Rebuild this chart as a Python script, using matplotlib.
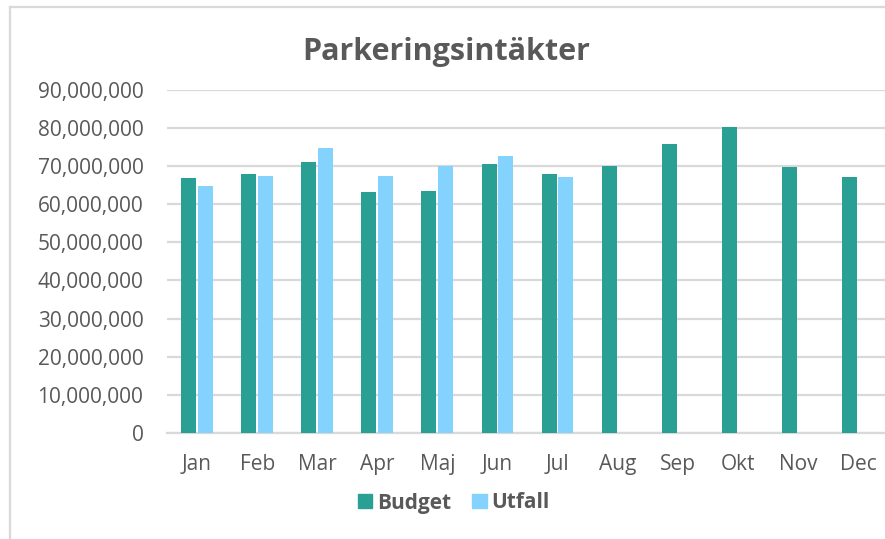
import numpy as np
import matplotlib
matplotlib.use("Agg")
import matplotlib.pyplot as plt
from matplotlib.lines import Line2D
from matplotlib.patches import Patch
from matplotlib.ticker import FuncFormatter

months = ["Jan", "Feb", "Mar", "Apr", "Maj", "Jun", "Jul", "Aug", "Sep", "Okt", "Nov", "Dec"]
budget = [66.7, 67.8, 70.9, 63.2, 63.5, 70.5, 67.8, 70.0, 75.8, 80.2, 69.6, 67.2]
budget = [v * 1e6 for v in budget]
utfall = [64.7, 67.3, 74.6, 67.3, 70.0, 72.6, 67.1]
utfall = [v * 1e6 for v in utfall]

teal = "#29A093"
light = "#84D2FE"
grey_txt = "#595959"
grid_c = "#D9D9D9"

plt.rcParams['font.family'] = ['Open Sans', 'DejaVu Sans']

W, H = 885, 539
fig = plt.figure(figsize=(W / 100, H / 100), dpi=100)

# axes placed in pixel units
left, right, bottom, top = 167, 888, 433, 89.5
ax = fig.add_axes([left / W, 1 - bottom / H, (right - left) / W, (bottom - top) / H])

x = np.arange(len(months))
bw = 0.25
ax.bar(x[:len(budget)] - 0.14, budget, width=bw, color=teal, zorder=3)
ax.bar(x[:len(utfall)] + 0.14, utfall, width=bw, color=light, zorder=3)

ax.set_xlim(-0.5, len(months) - 0.5)
ax.set_ylim(0, 90e6)
ax.set_yticks(np.arange(0, 90e6 + 1, 10e6))
ax.yaxis.set_major_formatter(FuncFormatter(lambda v, p: f"{int(v):,}"))
ax.set_xticks(x)
ax.set_xticklabels(months)

ax.grid(axis="y", color=grid_c, linewidth=1.6, zorder=0)
for s in ["top", "right", "left"]:
    ax.spines[s].set_visible(False)
ax.spines["bottom"].set_color(grid_c)
ax.spines["bottom"].set_linewidth(1.6)
ax.tick_params(axis="both", length=0, labelsize=15, colors=grey_txt)
ax.tick_params(axis="y", pad=17)
ax.tick_params(axis="x", pad=15)

fig.text(446 / W, 1 - 52 / H, "Parkeringsintäkter", ha="center", va="center",
         fontsize=22, fontweight="bold", color=grey_txt)

handles = [Patch(color=teal, label="Budget"), Patch(color=light, label="Utfall")]
leg = fig.legend(handles=handles, loc="center", bbox_to_anchor=(454 / W, 1 - 503 / H),
                 ncol=2, frameon=False, handlelength=0.68, handleheight=0.68,
                 handletextpad=0.25, columnspacing=1.0,
                 prop={"size": 15, "weight": "bold"})
for t in leg.get_texts():
    t.set_color(grey_txt)

# chart border (cropped on right and bottom)
fig.add_artist(Line2D([9.5 / W, 9.5 / W], [0, 1 - 6.5 / H], transform=fig.transFigure,
                      color=grid_c, linewidth=1.6))
fig.add_artist(Line2D([9.5 / W, 1], [1 - 6.5 / H, 1 - 6.5 / H], transform=fig.transFigure,
                      color=grid_c, linewidth=1.6))

fig.savefig("out.png", dpi=100)
